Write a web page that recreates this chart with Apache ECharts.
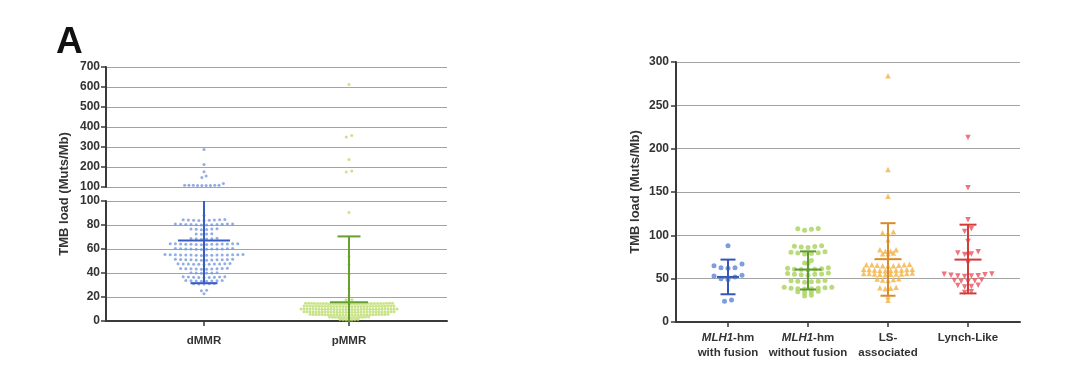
<!DOCTYPE html>
<html><head><meta charset="utf-8">
<script src="https://cdn.jsdelivr.net/npm/echarts@6/dist/echarts.min.js"></script>
<style>html,body{margin:0;padding:0;background:#fff}#c{width:1080px;height:380px}</style>
</head><body><div id="c"></div>
<script>
// ---------------- DATA ----------------
const LEFT_CATEGORIES = ['dMMR', 'pMMR'];
const RIGHT_CATEGORIES = ['MLH1-hm\nwith fusion', 'MLH1-hm\nwithout fusion', 'LS-\nassociated', 'Lynch-Like'];
const Y_TITLE = 'TMB load (Muts/Mb)';
const PANEL_LABEL = 'A';

const DMMR = [287, 212, 176, 155, 147, 117, 109, 108.6, 108.2, 108, 107.6, 107.2, 108.4, 107.8, 108.8,
  88,
  84.3, 84.1, 83.8, 84.4, 84.0, 83.7, 84.2, 83.9, 84.5,
  80.9, 80.6, 80.2, 80.8, 80.4, 80.0, 80.7, 80.3, 80.5, 80.1, 80.9, 80.4,
  76.8, 76.4, 76.1, 76.7, 76.3, 76.6,
  72.8, 72.4, 72.2, 72.6,
  68.9, 68.5, 68.2, 68.7, 68.3, 68.6,
  64.4, 64.1, 63.8, 64.3, 64.0, 63.7, 64.2, 63.9, 64.4, 64.1, 63.6, 64.3, 63.9, 64.0,
  60.4, 60.1, 59.8, 60.3, 60.0, 59.7, 60.2, 59.9, 60.4, 60.1, 59.6, 60.0,
  55.4, 55.1, 54.8, 55.3, 55.0, 54.7, 55.2, 54.9, 55.4, 55.1, 54.6, 55.3, 54.9, 55.0, 54.8, 55.2,
  51.4, 51.1, 50.8, 51.3, 51.0, 50.7, 51.2, 50.9, 51.4, 51.1, 50.6, 51.0,
  47.8, 47.5, 47.2, 47.7, 47.4, 47.1, 47.6, 47.3, 47.9, 47.5, 47.2,
  43.8, 43.5, 43.2, 43.7, 43.4, 43.1, 43.6, 43.3, 43.9, 43.5,
  40.3, 40.0, 39.7, 40.2, 39.9, 40.1,
  36.8, 36.5, 36.2, 36.7, 36.4, 36.1, 36.6, 36.3, 36.9,
  33.8, 33.5, 33.2, 33.7, 33.4, 33.1, 33.6, 33.3,
  31.2, 30.9, 31.0, 30.8, 31.1,
  25.7, 25.3,
  22.8];

const PMMR = [612, 358, 350, 238, 180, 175,
  90.5, 54, 47, 39, 27, 21,
  17.7, 17.4, 17.5,
  14.5,14.3,14.7,14.4,14.6,14.2,14.8,14.5,14.3,14.6,14.4,14.7,14.5,14.2,14.6,14.4,14.8,14.3,14.5,14.7,14.4,14.6,14.3,14.5,14.2,14.7,14.4,14.6,14.5,14.3,
  12.2,12.0,12.4,12.1,12.3,11.9,12.5,12.2,12.0,12.3,12.1,12.4,12.2,11.9,12.3,12.1,12.5,12.0,12.2,12.4,12.1,12.3,12.0,12.2,11.9,12.4,12.1,12.3,12.2,12.0,12.3,
  9.8,9.6,10.0,9.7,9.9,9.5,10.1,9.8,9.6,9.9,9.7,10.0,9.8,9.5,9.9,9.7,10.1,9.6,9.8,10.0,9.7,9.9,9.6,9.8,9.5,10.0,9.7,9.9,9.8,9.6,9.9,9.7,9.8,
  7.5,7.3,7.7,7.4,7.6,7.2,7.8,7.5,7.3,7.6,7.4,7.7,7.5,7.2,7.6,7.4,7.8,7.3,7.5,7.7,7.4,7.6,7.3,7.5,7.2,7.7,7.4,7.6,7.5,7.3,7.6,
  5.3,5.1,5.5,5.2,5.4,5.0,5.6,5.3,5.1,5.4,5.2,5.5,5.3,5.0,5.4,5.2,5.6,5.1,5.3,5.5,5.2,5.4,5.1,5.3,5.0,5.5,5.2,
  3.1,2.9,3.3,3.0,3.2,2.8,3.4,3.1,2.9,3.2,3.0,3.3,3.1,2.8,
  1.0,0.8,1.2,0.9,1.1,0.7,1.3];

// mean, SD low, SD high
const LEFT_MEAN = [67, 15.7];
const LEFT_SD_LOW = [31.5, -40];
const LEFT_SD_HIGH = [102, 70.5];

const MLH1_FUSION = [88, 67, 65, 62.5, 62, 62.5, 54, 53, 52, 50, 49, 25.5, 24];
const MLH1_NO_FUSION = [108, 107, 107.5, 106,
  88, 87, 86.5, 87.5, 86,
  81, 80, 79, 79.5, 80.5, 78.5,
  71, 68, 67.5,
  62, 61, 60.5, 61.5, 60, 61, 62.5,
  56, 55, 54.5, 55.5, 54, 55, 56.5,
  48, 47, 46.5, 47.5, 46, 47,
  40, 39, 38.5, 39.5, 38, 39, 40, 38.5,
  35.5, 34.5, 35, 34,
  31, 30];
const LS_ASSOCIATED = [284, 176, 145,
  104, 103, 102, 95,
  83.4, 81.5, 78.8, 79.6, 78.8, 81.5, 83.4,
  66.5, 66, 65.5, 65, 65.5, 66, 65, 64.5, 66,
  61, 60.5, 60, 59.5, 60, 61, 59, 60.5, 60, 59.5,
  56.5, 56, 55.5, 55, 55.5, 56, 54.5, 55, 56, 55.5,
  50, 49, 48.5, 49.5, 48,
  40, 39, 38.5, 39.5,
  29, 25];
const LYNCH_LIKE = [213, 155, 118, 107.5, 104.5, 93,
  81, 79.5, 78.5, 78, 77,
  68,
  55.5, 55, 54.5, 54, 53.5, 53, 53, 52.5,
  48.5, 48, 47.5, 47, 46.5,
  42.5, 41, 40.5, 42,
  35, 34];
const RIGHT_MEAN = [52, 60.5, 72.5, 72];
const RIGHT_SD_LOW = [32, 37.5, 30.3, 33];
const RIGHT_SD_HIGH = [72, 81.5, 114, 112.3];

// ---------------- LAYOUT / STYLE ----------------
const FONT = 'Arial, "Liberation Sans", Helvetica, sans-serif';
const TXT = '#333';
const AXIS_COLOR = '#3a3a3a';
const GRID_COLOR = '#a3a3a3';
const L_LEFT = 106, L_W = 341, L_PX = 145;
const L_MIN = -(98 / L_PX), L_MAX = 1 + 98 / L_PX;
const R_LEFT = 676, R_W = 344, R_MIN = -0.65, R_MAX = 3.65, R_PX = R_W / (R_MAX - R_MIN);

function swarm(values, center, tol, spacingPx, pxPerUnit) {
  const sorted = values.slice().sort((a, b) => b - a);
  const rows = [];
  let cur = null;
  for (const v of sorted) {
    if (!cur || cur.start - v > tol) { cur = { start: v, vals: [] }; rows.push(cur); }
    cur.vals.push(v);
  }
  const pts = [];
  for (const r of rows) {
    const vs = r.vals.slice().sort((a, b) => a - b);
    const n = vs.length;
    const slots = [];
    for (let k = 0; k < n; k++) slots.push(k - (n - 1) / 2);
    slots.sort((a, b) => Math.abs(a) - Math.abs(b) || a - b);
    vs.forEach((v, k) => pts.push([center + slots[k] * spacingPx / pxPerUnit, v]));
  }
  return pts;
}

const dUp = swarm(DMMR.filter(v => v > 100), 0, 10, 4.3, L_PX);
const dLo = swarm(DMMR.filter(v => v <= 100), 0, 1.5, 5.2, L_PX);
const pUp = swarm(PMMR.filter(v => v > 100), 1, 10, 5.5, L_PX);
const pLo = swarm(PMMR.filter(v => v <= 100), 1, 0.9, 3.0, L_PX);

const rBlue = swarm(MLH1_FUSION, 0, 5.5, 7, R_PX);
const rGreen = swarm(MLH1_NO_FUSION, 1, 3, 6.8, R_PX);
const rOrange = swarm(LS_ASSOCIATED, 2, 3, 5.4, R_PX);
const rRed = swarm(LYNCH_LIKE, 3, 3, 6.8, R_PX);

function errorRender(colors, meanW, capW) {
  return function (params, api) {
    const i = params.dataIndex;
    const x = api.value(0), m = api.value(1), lo = api.value(2), hi = api.value(3);
    const cs = params.coordSys;
    const top = cs.y, bot = cs.y + cs.height;
    const pm = api.coord([x, m]), pl = api.coord([x, lo]), ph = api.coord([x, hi]);
    const cx = pm[0];
    const clamp = v => Math.max(top, Math.min(bot, v));
    const style = { stroke: colors[i], lineWidth: 2 };
    const ch = [{ type: 'line', shape: { x1: cx, y1: clamp(pl[1]), x2: cx, y2: clamp(ph[1]) }, style }];
    const hline = (y, w) => { if (y >= top - 0.5 && y <= bot + 0.5) ch.push({ type: 'line', shape: { x1: cx - w / 2, y1: y, x2: cx + w / 2, y2: y }, style }); };
    hline(pm[1], meanW[i]); hline(pl[1], capW[i]); hline(ph[1], capW[i]);
    return { type: 'group', children: ch };
  };
}

const labelStyle = { color: TXT, fontWeight: 'bold', fontSize: 12, fontFamily: FONT };
function yAxisCfg(grid, min, max, interval, margin) {
  return {
    gridIndex: grid, type: 'value', min, max, interval,
    axisLine: { show: true, onZero: false, lineStyle: { color: AXIS_COLOR, width: 2 } },
    axisTick: { show: true, length: 5, lineStyle: { color: AXIS_COLOR, width: 1.5 } },
    axisLabel: Object.assign({ margin }, labelStyle),
    splitLine: { show: true, lineStyle: { color: GRID_COLOR, width: 1 } }
  };
}

const option = {
  animation: false,
  backgroundColor: '#fff',
  grid: [
    { left: L_LEFT, top: 67, width: L_W, height: 120 },
    { left: L_LEFT, top: 201, width: L_W, height: 120 },
    { left: R_LEFT, top: 62, width: R_W, height: 260 }
  ],
  xAxis: [
    { gridIndex: 0, type: 'value', min: L_MIN, max: L_MAX, show: false },
    {
      gridIndex: 1, type: 'value', min: L_MIN, max: L_MAX,
      axisLine: { show: true, onZero: false, lineStyle: { color: AXIS_COLOR, width: 2 } },
      axisTick: { show: true, customValues: [0, 1], length: 5, lineStyle: { color: AXIS_COLOR, width: 1.5 } },
      axisLabel: Object.assign({}, labelStyle, { customValues: [0, 1], margin: 14, fontSize: 11.5, formatter: v => LEFT_CATEGORIES[Math.round(v)] }),
      splitLine: { show: false }
    },
    {
      gridIndex: 2, type: 'value', min: R_MIN, max: R_MAX,
      axisLine: { show: true, onZero: false, lineStyle: { color: AXIS_COLOR, width: 2 } },
      axisTick: { show: true, customValues: [0, 1, 2, 3], length: 5, lineStyle: { color: AXIS_COLOR, width: 1.5 } },
      axisLabel: Object.assign({}, labelStyle, {
        customValues: [0, 1, 2, 3], margin: 8, fontSize: 11.5, lineHeight: 15.5,
        formatter: v => RIGHT_CATEGORIES[Math.round(v)].replace('MLH1', '{i|MLH1}'),
        rich: { i: { fontStyle: 'italic', fontWeight: 'bold', fontSize: 11.5, color: TXT, fontFamily: FONT, lineHeight: 15.5 } }
      }),
      splitLine: { show: false }
    }
  ],
  yAxis: [
    yAxisCfg(0, 100, 700, 100, 6),
    yAxisCfg(1, 0, 100, 20, 6),
    Object.assign(yAxisCfg(2, 0, 300, 50, 7), {
      name: Y_TITLE, nameLocation: 'middle', nameGap: 34,
      nameTextStyle: { color: TXT, fontWeight: 'bold', fontSize: 13, fontFamily: FONT }
    })
  ],
  graphic: [
    { type: 'text', left: 56, top: 24, style: { text: PANEL_LABEL, fontSize: 37, fontWeight: 'bold', fill: '#111', fontFamily: FONT } },
    { type: 'text', x: 64, y: 194, rotation: Math.PI / 2, style: { text: Y_TITLE, fontSize: 13, fontWeight: 'bold', fill: TXT, fontFamily: FONT, align: 'center', verticalAlign: 'middle' } }
  ],
  series: [
    { type: 'scatter', xAxisIndex: 0, yAxisIndex: 0, data: dUp, symbolSize: 3, itemStyle: { color: '#7598de' }, z: 2 },
    { type: 'scatter', xAxisIndex: 1, yAxisIndex: 1, data: dLo, symbolSize: 3, itemStyle: { color: '#7598de' }, z: 2 },
    { type: 'scatter', xAxisIndex: 0, yAxisIndex: 0, data: pUp, symbolSize: 3, itemStyle: { color: '#bcdc6c' }, z: 2 },
    { type: 'scatter', xAxisIndex: 1, yAxisIndex: 1, data: pLo, symbolSize: 3, itemStyle: { color: '#bcdc6c' }, z: 2 },
    {
      type: 'custom', xAxisIndex: 1, yAxisIndex: 1, z: 3,
      renderItem: errorRender(['#3a5cc0', '#66a02e'], [52, 38], [27, 23]),
      data: LEFT_MEAN.map((m, i) => [i, m, LEFT_SD_LOW[i], LEFT_SD_HIGH[i]])
    },
    { type: 'scatter', xAxisIndex: 2, yAxisIndex: 2, data: rBlue, symbol: 'circle', symbolSize: 5, itemStyle: { color: '#5b86d8' }, z: 2 },
    { type: 'scatter', xAxisIndex: 2, yAxisIndex: 2, data: rGreen, symbol: 'circle', symbolSize: 5, itemStyle: { color: '#a9d25a' }, z: 2 },
    { type: 'scatter', xAxisIndex: 2, yAxisIndex: 2, data: rOrange, symbol: 'triangle', symbolSize: 5.5, itemStyle: { color: '#f3b144' }, z: 2 },
    { type: 'scatter', xAxisIndex: 2, yAxisIndex: 2, data: rRed, symbol: 'triangle', symbolRotate: 180, symbolSize: 5.5, itemStyle: { color: '#e8535e' }, z: 2 },
    {
      type: 'custom', xAxisIndex: 2, yAxisIndex: 2, z: 3,
      renderItem: errorRender(['#3557b8', '#5e9a33', '#d98a2a', '#d43a3a'], [22, 27, 27, 27], [15, 16, 15, 17]),
      data: RIGHT_MEAN.map((m, i) => [i, m, RIGHT_SD_LOW[i], RIGHT_SD_HIGH[i]])
    }
  ]
};
const chart = echarts.init(document.getElementById('c'), null, { renderer: 'canvas' });
chart.setOption(option);
</script></body></html>
